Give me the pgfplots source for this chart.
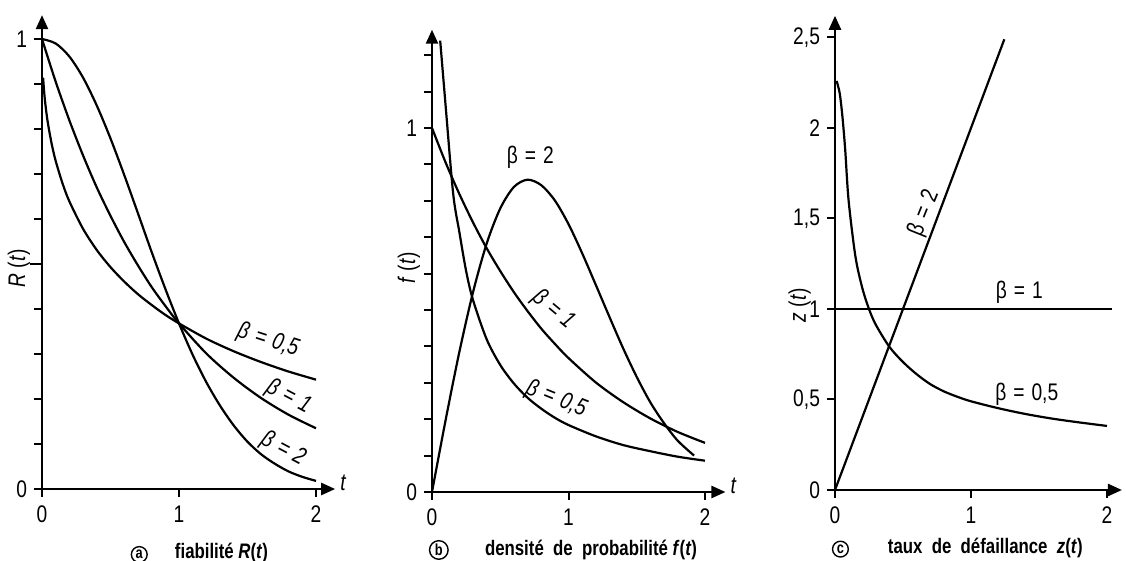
\documentclass[border=0pt]{standalone}
\usepackage{fontspec}
\setmainfont[FakeStretch=0.8]{Liberation Sans}
\usepackage{pgfplots}
\pgfplotsset{compat=1.18}
\usetikzlibrary{arrows.meta}
\newcommand{\circl}[1]{\tikz[baseline=(c.base)]\node[circle,draw,line width=0.7pt,inner sep=0.8pt,font=\fontsize{8}{8}\selectfont\bfseries](c){#1};}
\newcommand{\bq}[1]{β\hspace{3.5pt}=\hspace{3.5pt}#1}
\tikzset{
  blab/.style={font=\fontsize{12}{13}\selectfont},
  captxt/.style={font=\fontsize{10.5}{12}\selectfont\bfseries, anchor=base},
}
\pgfplotsset{
  weib/.style={
    axis lines=left,
    axis line style={line width=1.2pt, -{Triangle[length=7pt,width=6pt]}},
    clip=false,
    tick style={line width=1pt, black},
    tick align=outside,
    major tick length=4pt,
    xtick={0,1,2},
    xticklabels={0,1,2},
    xticklabel style={font=\fontsize{12}{13}\selectfont, yshift=-1pt},
    yticklabel style={font=\fontsize{12}{13}\selectfont},
    /pgf/number format/assume math mode=true,
    cycle list={{black}},
    every axis plot/.append style={line width=1.1pt, black, no marks},
    xmin=0, ymin=0,
  },
}
\begin{document}
\begin{tikzpicture}
\useasboundingbox (0,0) rectangle (563pt,-280.5pt);

% ---------- panel a ----------
\begin{axis}[weib, at={(21pt,-244.5pt)}, anchor=origin, x=68.5pt, y=225pt,
  xmax=2.14, ymax=1.053,
  ytick={0,0.1,0.2,0.3,0.4,0.5,0.6,0.7,0.8,0.9,1},
  yticklabels={0,{},{},{},{},{},{},{},{},{},1},
  extra y ticks={0.5}, extra y tick labels={}, extra y tick style={major tick length=6pt}]
\addplot[black, smooth] coordinates {(0.008,0.914)(0.02,0.868)(0.04,0.819)(0.07,0.768)(0.1,0.729)(0.15,0.679)(0.2,0.639)(0.3,0.578)(0.4,0.531)(0.5,0.493)(0.6,0.461)(0.7,0.433)(0.8,0.409)(0.9,0.387)(1.0,0.368)(1.2,0.334)(1.4,0.306)(1.6,0.282)(1.8,0.261)(2.0,0.243)};
\addplot[black, smooth] coordinates {(0,1)(0.1,0.905)(0.2,0.819)(0.3,0.741)(0.4,0.670)(0.5,0.607)(0.6,0.549)(0.7,0.497)(0.8,0.449)(0.9,0.407)(1.0,0.368)(1.2,0.301)(1.4,0.247)(1.6,0.202)(1.8,0.165)(2.0,0.135)};
\addplot[black, smooth] coordinates {(0,1)(0.1,0.990)(0.2,0.961)(0.3,0.914)(0.4,0.852)(0.5,0.779)(0.6,0.698)(0.7,0.613)(0.8,0.527)(0.9,0.445)(1.0,0.368)(1.1,0.298)(1.2,0.237)(1.3,0.185)(1.4,0.141)(1.5,0.105)(1.6,0.077)(1.7,0.056)(1.8,0.039)(1.9,0.027)(2.0,0.018)};
\node[blab, rotate=-18] at (axis cs:1.65,0.33) {\itshape\bq{0,5}};
\node[blab, rotate=-28] at (axis cs:1.80,0.205) {\itshape\bq{1}};
\node[blab, rotate=-28] at (axis cs:1.76,0.088) {\itshape\bq{2}};
\node[blab, rotate=90] at (axis cs:-0.168,0.49) {\textit{R} (\textit{t})};
\node[blab] at (axis cs:2.2,0.014) {\textit{t}};
\node[captxt] at (axis cs:0.71,-0.155) {\circl{a}};
\node[captxt] at (axis cs:1.31,-0.155) {fiabilité \textit{R}(\textit{t})};
\end{axis}

% ---------- panel b ----------
\begin{axis}[weib, at={(216pt,-246pt)}, anchor=origin, x=68.25pt, y=182pt,
  xmax=2.15, ymax=1.27,
  ytick={0,0.1,0.2,0.3,0.4,0.5,0.6,0.7,0.8,0.9,1,1.1,1.2},
  yticklabels={0,{},{},{},{},{},{},{},{},{},1,{},{}}]
\addplot[black, smooth] coordinates {(0.06,1.24)(0.1,1.06)(0.155,0.82)(0.2,0.715)(0.25,0.607)(0.3,0.528)(0.4,0.420)(0.5,0.349)(0.6,0.298)(0.7,0.259)(0.8,0.229)(0.9,0.204)(1.0,0.184)(1.2,0.153)(1.4,0.129)(1.6,0.112)(1.8,0.097)(2.0,0.086)};
\addplot[black, smooth] coordinates {(0,1)(0.1,0.905)(0.2,0.819)(0.3,0.741)(0.4,0.670)(0.5,0.607)(0.6,0.549)(0.7,0.497)(0.8,0.449)(0.9,0.407)(1.0,0.368)(1.2,0.301)(1.4,0.247)(1.6,0.202)(1.8,0.165)(2.0,0.135)};
\addplot[black, smooth] coordinates {(0,0)(0.1,0.198)(0.2,0.384)(0.3,0.548)(0.4,0.682)(0.5,0.779)(0.6,0.838)(0.7,0.858)(0.8,0.843)(0.9,0.801)(1.0,0.736)(1.1,0.656)(1.2,0.569)(1.3,0.481)(1.4,0.395)(1.5,0.316)(1.6,0.246)(1.7,0.189)(1.8,0.141)(1.92,0.10)};
\node[blab] at (axis cs:0.72,0.92) {\bq{2}};
\node[blab, rotate=-40] at (axis cs:0.89,0.50) {\itshape\bq{1}};
\node[blab, rotate=-22] at (axis cs:0.91,0.255) {\itshape\bq{0,5}};
\node[blab, rotate=90] at (axis cs:-0.17,0.616) {\textit{f} (\textit{t})};
\node[blab] at (axis cs:2.21,0.016) {\textit{t}};
\node[captxt] at (axis cs:0.05,-0.175) {\circl{b}};
\node[captxt] at (axis cs:1.165,-0.175) {densité \ de \ probabilité \textit{f}(\textit{t})};
\end{axis}

% ---------- panel c ----------
\begin{axis}[weib, at={(417.5pt,-245pt)}, anchor=origin, x=68pt, y=90.5pt,
  xmax=2.11, ymax=2.62,
  ytick={0,0.5,1,1.5,2,2.5},
  yticklabels={0,{0,5},1,{1,5},2,{2,5}}]
\addplot[black, smooth] coordinates {(0.012,2.26)(0.035,2.19)(0.055,2.06)(0.075,1.88)(0.1,1.60)(0.15,1.291)(0.2,1.118)(0.25,1.0)(0.3,0.913)(0.4,0.791)(0.5,0.707)(0.6,0.640)(0.7,0.585)(0.8,0.545)(0.9,0.515)(1.0,0.49)(1.2,0.452)(1.4,0.420)(1.6,0.394)(1.8,0.373)(2.0,0.354)};
\addplot[black] coordinates {(0,1)(2.04,1)};
\addplot[black] coordinates {(0,0)(1.245,2.49)};
\node[blab, rotate=68] at (axis cs:0.655,1.53) {\bq{2}};
\node[blab] at (axis cs:1.355,1.09) {\bq{1}};
\node[blab] at (axis cs:1.41,0.53) {\bq{0,5}};
\node[blab, rotate=90] at (axis cs:-0.26,1.02) {\textit{z} (\textit{t})};
\node[captxt] at (axis cs:0.04,-0.35) {\circl{c}};
\node[captxt] at (axis cs:1.105,-0.35) {taux \ de \ défaillance \ \textit{z}(\textit{t})};
\end{axis}
\end{tikzpicture}
\end{document}
